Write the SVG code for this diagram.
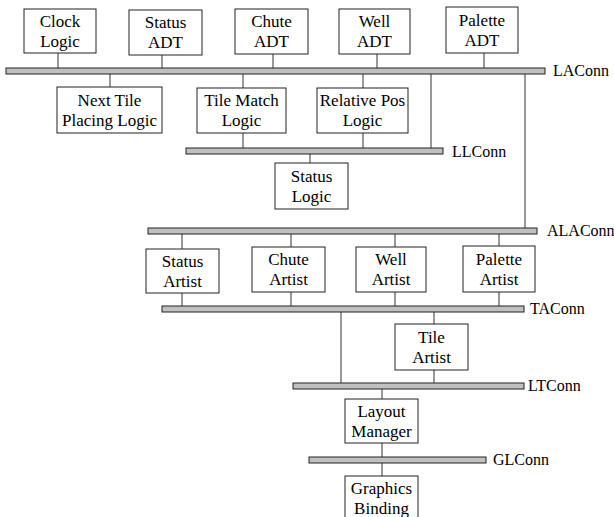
<svg xmlns="http://www.w3.org/2000/svg" width="614" height="517" viewBox="0 0 614 517">
<style>
.box{fill:#fff;stroke:#222;stroke-width:1}
.bus{fill:#c0c0c0;stroke:#222;stroke-width:1}
.ln{stroke:#333;stroke-width:1;fill:none}
.t{font-family:'Liberation Serif','Times New Roman',serif;font-size:17px;fill:#000;text-anchor:middle}
.lbl{font-family:'Liberation Serif','Times New Roman',serif;font-size:16px;fill:#000}
</style>
<rect width="614" height="517" fill="#fff"/>
<g id="connectors">
<line class="ln" x1="58" y1="53" x2="58" y2="68"/>
<line class="ln" x1="162" y1="55" x2="162" y2="68"/>
<line class="ln" x1="273" y1="54" x2="273" y2="68"/>
<line class="ln" x1="377" y1="54" x2="377" y2="68"/>
<line class="ln" x1="484" y1="53" x2="484" y2="68"/>
<line class="ln" x1="110" y1="74" x2="110" y2="87"/>
<line class="ln" x1="243" y1="74" x2="243" y2="88"/>
<line class="ln" x1="363" y1="74" x2="363" y2="88"/>
<line class="ln" x1="431" y1="74" x2="431" y2="148"/>
<line class="ln" x1="525" y1="74" x2="525" y2="228"/>
<line class="ln" x1="243" y1="133" x2="243" y2="148"/>
<line class="ln" x1="363" y1="133" x2="363" y2="148"/>
<line class="ln" x1="310" y1="154" x2="310" y2="163"/>
<line class="ln" x1="182" y1="234" x2="182" y2="249"/>
<line class="ln" x1="291" y1="234" x2="291" y2="247"/>
<line class="ln" x1="395" y1="234" x2="395" y2="247"/>
<line class="ln" x1="499" y1="234" x2="499" y2="246"/>
<line class="ln" x1="182" y1="293" x2="182" y2="306"/>
<line class="ln" x1="291" y1="292" x2="291" y2="306"/>
<line class="ln" x1="395" y1="292" x2="395" y2="306"/>
<line class="ln" x1="499" y1="292" x2="499" y2="306"/>
<line class="ln" x1="341" y1="312" x2="341" y2="383"/>
<line class="ln" x1="434" y1="312" x2="434" y2="324"/>
<line class="ln" x1="434" y1="370" x2="434" y2="383"/>
<line class="ln" x1="382" y1="389" x2="382" y2="399"/>
<line class="ln" x1="382" y1="443" x2="382" y2="457"/>
<line class="ln" x1="382" y1="463" x2="382" y2="476"/>
</g>
<g id="LAConn"><rect class="bus" x="6" y="68" width="539" height="6"/><text class="lbl" x="553" y="76">LAConn</text></g>
<g id="LLConn"><rect class="bus" x="186" y="148" width="257" height="6"/><text class="lbl" x="452" y="157">LLConn</text></g>
<g id="ALAConn"><rect class="bus" x="148" y="228" width="389" height="6"/><text class="lbl" x="547" y="236">ALAConn</text></g>
<g id="TAConn"><rect class="bus" x="162" y="306" width="362" height="6"/><text class="lbl" x="530" y="314">TAConn</text></g>
<g id="LTConn"><rect class="bus" x="293" y="383" width="231" height="6"/><text class="lbl" x="528" y="391">LTConn</text></g>
<g id="GLConn"><rect class="bus" x="309" y="457" width="177" height="6"/><text class="lbl" x="493" y="465">GLConn</text></g>
<g id="clock-logic"><rect class="box" x="24" y="9" width="72" height="44"/><text class="t" x="60" y="26.5">Clock</text><text class="t" x="60" y="46.5">Logic</text></g>
<g id="status-adt"><rect class="box" x="129" y="10" width="73" height="45"/><text class="t" x="165.5" y="28">Status</text><text class="t" x="165.5" y="48">ADT</text></g>
<g id="chute-adt"><rect class="box" x="235" y="9" width="73" height="45"/><text class="t" x="271.5" y="27">Chute</text><text class="t" x="271.5" y="47">ADT</text></g>
<g id="well-adt"><rect class="box" x="339" y="9" width="71" height="45"/><text class="t" x="374.5" y="27">Well</text><text class="t" x="374.5" y="47">ADT</text></g>
<g id="palette-adt"><rect class="box" x="446" y="7" width="72" height="46"/><text class="t" x="482" y="25.5">Palette</text><text class="t" x="482" y="45.5">ADT</text></g>
<g id="next-tile"><rect class="box" x="57" y="87" width="105" height="46"/><text class="t" x="109.5" y="105.5">Next Tile</text><text class="t" x="109.5" y="125.5">Placing Logic</text></g>
<g id="tile-match"><rect class="box" x="197" y="88" width="89" height="45"/><text class="t" x="241.5" y="106">Tile Match</text><text class="t" x="241.5" y="126">Logic</text></g>
<g id="relative-pos"><rect class="box" x="317" y="88" width="91" height="45"/><text class="t" x="362.5" y="106">Relative Pos</text><text class="t" x="362.5" y="126">Logic</text></g>
<g id="status-logic"><rect class="box" x="275" y="163" width="73" height="46"/><text class="t" x="311.5" y="181.5">Status</text><text class="t" x="311.5" y="201.5">Logic</text></g>
<g id="status-artist"><rect class="box" x="146" y="249" width="73" height="44"/><text class="t" x="182.5" y="266.5">Status</text><text class="t" x="182.5" y="286.5">Artist</text></g>
<g id="chute-artist"><rect class="box" x="252" y="247" width="73" height="45"/><text class="t" x="288.5" y="265">Chute</text><text class="t" x="288.5" y="285">Artist</text></g>
<g id="well-artist"><rect class="box" x="356" y="247" width="70" height="45"/><text class="t" x="391" y="265">Well</text><text class="t" x="391" y="285">Artist</text></g>
<g id="palette-artist"><rect class="box" x="463" y="246" width="72" height="46"/><text class="t" x="499" y="264.5">Palette</text><text class="t" x="499" y="284.5">Artist</text></g>
<g id="tile-artist"><rect class="box" x="395" y="324" width="73" height="46"/><text class="t" x="431.5" y="342.5">Tile</text><text class="t" x="431.5" y="362.5">Artist</text></g>
<g id="layout-manager"><rect class="box" x="345" y="399" width="73" height="44"/><text class="t" x="381.5" y="416.5">Layout</text><text class="t" x="381.5" y="436.5">Manager</text></g>
<g id="graphics-binding"><rect class="box" x="345" y="476" width="73" height="50"/><text class="t" x="381.5" y="494">Graphics</text><text class="t" x="381.5" y="514">Binding</text></g>
</svg>
